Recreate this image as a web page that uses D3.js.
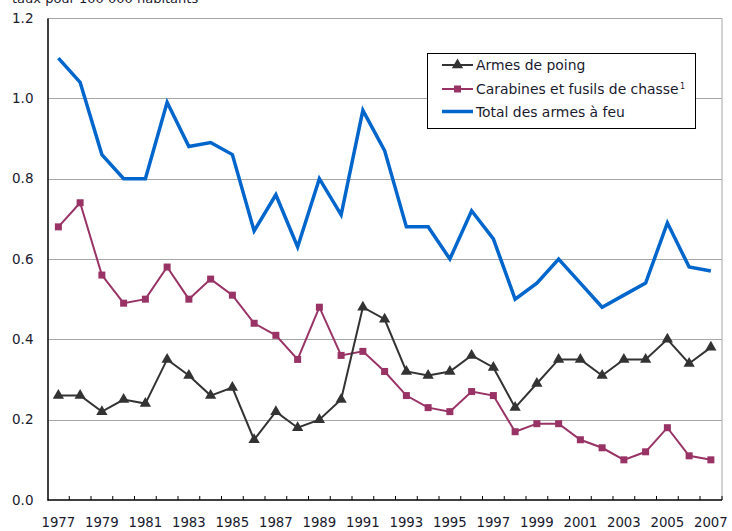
<!DOCTYPE html>
<html>
<head>
<meta charset="utf-8">
<script src="https://cdn.jsdelivr.net/npm/d3@7"></script>
<style>
  body { margin: 0; background: #fff; }
  svg { display: block; font-family: "DejaVu Sans", sans-serif; }
</style>
</head>
<body>
<svg id="chart" width="732" height="531"></svg>
<script>
// Data
const years = d3.range(1977, 2008);
const poing = [0.26, 0.26, 0.22, 0.25, 0.24, 0.35, 0.31, 0.26, 0.28, 0.15,
  0.22, 0.18, 0.20, 0.25, 0.48, 0.45, 0.32, 0.31, 0.32, 0.36,
  0.33, 0.23, 0.29, 0.35, 0.35, 0.31, 0.35, 0.35, 0.40, 0.34, 0.38];
const carabines = [0.68, 0.74, 0.56, 0.49, 0.50, 0.58, 0.50, 0.55, 0.51, 0.44,
  0.41, 0.35, 0.48, 0.36, 0.37, 0.32, 0.26, 0.23, 0.22, 0.27,
  0.26, 0.17, 0.19, 0.19, 0.15, 0.13, 0.10, 0.12, 0.18, 0.11, 0.10];
const total = [1.10, 1.04, 0.86, 0.80, 0.80, 0.99, 0.88, 0.89, 0.86, 0.67,
  0.76, 0.63, 0.80, 0.71, 0.97, 0.87, 0.68, 0.68, 0.60, 0.72,
  0.65, 0.50, 0.54, 0.60, 0.54, 0.48, 0.51, 0.54, 0.69, 0.58, 0.57];
const yTicks = [0, 0.2, 0.4, 0.6, 0.8, 1.0, 1.2];
const legendLabels = ['Armes de poing', 'Carabines et fusils de chasse', 'Total des armes à feu'];

// Config
const margin = { top: 18, right: 10, bottom: 31, left: 47.5 };
const width = 732, height = 531;
const colorPoing = '#333333';
const colorCarab = '#993366';
const colorTotal = '#0066cc';
const colorGrid = '#a6a6a6';
const colorText = '#1a1a2e';

const svg = d3.select('#chart');
const x = d3.scaleBand().domain(years).range([margin.left, 721.75]).padding(0);
const y = d3.scaleLinear().domain([0, 1.2]).range([height - margin.bottom, margin.top]);
const cx = d => x(d) + x.bandwidth() / 2;

// title (cut off at the top, as in the source)
svg.append('text')
  .attr('x', 12).attr('y', 2.5)
  .attr('font-size', 13).attr('fill', colorText)
  .text('taux pour 100 000 habitants');

// gridlines
svg.append('g').selectAll('line')
  .data(yTicks.filter(d => d > 0))
  .join('line')
  .attr('x1', margin.left).attr('x2', 721.75)
  .attr('y1', d => Math.round(y(d)) + 0.5).attr('y2', d => Math.round(y(d)) + 0.5)
  .attr('stroke', colorGrid).attr('stroke-width', 1);

// right border
svg.append('line')
  .attr('x1', 722).attr('x2', 722)
  .attr('y1', y(1.2)).attr('y2', y(0))
  .attr('stroke', colorGrid);

// y axis
const yAxis = svg.append('g')
  .attr('transform', `translate(${margin.left},0)`)
  .call(d3.axisLeft(y).tickValues(yTicks).tickFormat(d3.format('.1f')).tickSize(0).tickPadding(14));
yAxis.select('.domain').attr('stroke', '#000').attr('stroke-width', 1.5);
yAxis.selectAll('text').attr('font-size', 13.5).attr('fill', colorText)
  .attr('font-family', '"DejaVu Sans", sans-serif');

// x axis
const boundaries = years.slice(1);
const xAxis = svg.append('g')
  .attr('transform', `translate(0,${y(0)})`);
xAxis.append('line')
  .attr('x1', margin.left).attr('x2', 722)
  .attr('stroke', '#000').attr('stroke-width', 1.5);
xAxis.selectAll('.tick')
  .data(boundaries)
  .join('line')
  .attr('class', 'tick')
  .attr('x1', d => x(d)).attr('x2', d => x(d))
  .attr('y1', 0).attr('y2', -4)
  .attr('stroke', '#000');
xAxis.append('line')
  .attr('x1', 722).attr('x2', 722).attr('y1', 0).attr('y2', -4)
  .attr('stroke', '#000');
xAxis.selectAll('.lbl')
  .data(years.filter(d => (d - 1977) % 2 === 0))
  .join('text')
  .attr('class', 'lbl')
  .attr('x', d => cx(d)).attr('y', 27)
  .attr('text-anchor', 'middle')
  .attr('font-size', 13.3).attr('fill', colorText)
  .text(d => d);

// lines
const line = d3.line().x((d, i) => cx(years[i])).y(d => y(d));

svg.append('path').datum(total)
  .attr('d', line).attr('fill', 'none')
  .attr('stroke', colorTotal).attr('stroke-width', 3.5).attr('stroke-linejoin', 'miter');

svg.append('path').datum(carabines)
  .attr('d', line).attr('fill', 'none')
  .attr('stroke', colorCarab).attr('stroke-width', 2);
svg.append('g').selectAll('rect')
  .data(carabines)
  .join('rect')
  .attr('x', (d, i) => cx(years[i]) - 3.5).attr('y', d => y(d) - 3.5)
  .attr('width', 7).attr('height', 7)
  .attr('fill', colorCarab);

svg.append('path').datum(poing)
  .attr('d', line).attr('fill', 'none')
  .attr('stroke', colorPoing).attr('stroke-width', 2);
const tri = d3.symbol().type(d3.symbolTriangle).size(55);
svg.append('g').selectAll('path')
  .data(poing)
  .join('path')
  .attr('d', tri)
  .attr('transform', (d, i) => `translate(${cx(years[i])},${y(d)})`)
  .attr('fill', colorPoing);

// legend
const lg = svg.append('g');
lg.append('rect')
  .attr('x', 427.5).attr('y', 53.5).attr('width', 268).attr('height', 75)
  .attr('fill', '#fff').attr('stroke', '#000').attr('stroke-width', 1);
const rowsY = [65, 89, 111.5];
const lx1 = 442, lx2 = 473;
// poing
lg.append('line').attr('x1', lx1).attr('x2', lx2).attr('y1', rowsY[0]).attr('y2', rowsY[0])
  .attr('stroke', colorPoing).attr('stroke-width', 2);
lg.append('path').attr('d', tri).attr('transform', `translate(${(lx1 + lx2) / 2},${rowsY[0]})`)
  .attr('fill', colorPoing);
// carabines
lg.append('line').attr('x1', lx1).attr('x2', lx2).attr('y1', rowsY[1]).attr('y2', rowsY[1])
  .attr('stroke', colorCarab).attr('stroke-width', 2);
lg.append('rect').attr('x', (lx1 + lx2) / 2 - 3.5).attr('y', rowsY[1] - 3.5)
  .attr('width', 7).attr('height', 7).attr('fill', colorCarab);
// total
lg.append('line').attr('x1', lx1).attr('x2', lx2).attr('y1', rowsY[2]).attr('y2', rowsY[2])
  .attr('stroke', colorTotal).attr('stroke-width', 3.5);

lg.selectAll('.ltxt')
  .data(legendLabels)
  .join('text')
  .attr('class', 'ltxt')
  .attr('x', 476).attr('y', (d, i) => rowsY[i])
  .attr('dy', '0.36em')
  .attr('font-size', 13.9).attr('fill', colorText)
  .text(d => d)
  .filter((d, i) => i === 1)
  .append('tspan')
  .attr('font-size', 8).attr('dy', '-0.6em').attr('dx', 1.5)
  .text('1');
</script>
</body>
</html>
